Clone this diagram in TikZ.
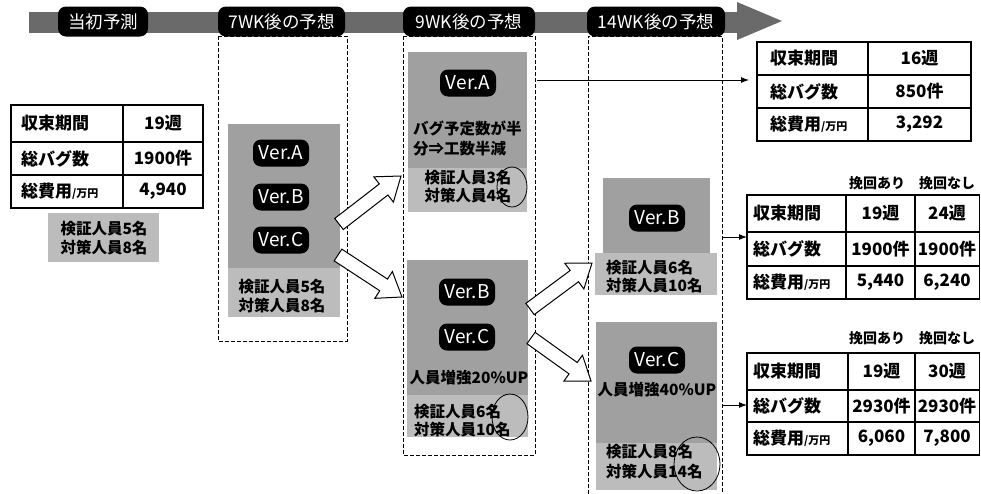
\documentclass[tikz,border=0pt]{standalone}
\usepackage{fontspec}
\setmainfont{Noto Sans CJK JP}
\usetikzlibrary{shapes.geometric,calc,arrows.meta}
\definecolor{barg}{HTML}{6A6A6A}
\definecolor{pang}{HTML}{A0A0A0}
\definecolor{panl}{HTML}{BCBCBC}
\newcommand\blockarr[2]{%
  \coordinate (#1h) at ($(#2)!22pt!(#1)$);
  \draw[blockarrow] ($(#1)!7pt!90:(#2)$) -- ($(#1h)!7pt!90:(#2)$) -- ($(#1h)!16pt!90:(#2)$) -- (#2)
    -- ($(#1h)!16pt!-90:(#2)$) -- ($(#1h)!7pt!-90:(#2)$) -- ($(#1)!7pt!-90:(#2)$) -- cycle;}
\newcommand\smallunit{{\fontsize{11}{11}\selectfont/万円}}
\begin{document}
\begin{tikzpicture}[x=1pt,y=-1pt,
  hdr/.style={fill=black, rounded corners=8pt, text=white, font=\fontsize{17.5}{17.5}\selectfont, minimum height=30pt, inner sep=0pt},
  ver/.style={fill=black, rounded corners=8pt, text=white, font=\fontsize{19}{19}\selectfont, minimum width=56pt, minimum height=27pt, inner sep=0pt},
  ptxt/.style={font=\bfseries\fontsize{15.5}{19}\selectfont, align=center, inner sep=0pt},
  ptxtl/.style={font=\bfseries\fontsize{15.5}{19}\selectfont, align=left, anchor=west, inner sep=0pt},
  tlab/.style={font=\bfseries\fontsize{17}{17}\selectfont, anchor=west, inner sep=0pt},
  tval/.style={font=\bfseries\fontsize{17}{17}\selectfont, inner sep=0pt},
  thead/.style={font=\bfseries\fontsize{14}{14}\selectfont, inner sep=0pt},
  tline/.style={line width=1.4pt},
  dashbox/.style={line width=0.8pt, dash pattern=on 4pt off 2pt},
  blockarrow/.style={draw=black, fill=white, line width=1pt, line join=miter},
  ring/.style={draw=black, line width=0.8pt, ellipse, inner sep=0pt},
  thin/.style={line width=1pt, -{Latex[length=8pt,width=6pt]}}
]
\useasboundingbox (0,0) rectangle (981,493);
\fill[white] (0,0) rectangle (981,493);

% top banner
\fill[barg] (29,12) rectangle (738,33);
\fill[barg] (737,2) -- (782,21) -- (737,40) -- cycle;
\node[hdr, minimum width=90pt] (h1) at (103,21.5) {当初予測};
\node[hdr, minimum width=127pt] (h2) at (281.5,21.5) {7WK後の予想};
\node[hdr, minimum width=132pt] (h3) at (469,21.5) {9WK後の予想};
\node[hdr, minimum width=138pt] (h4) at (656,21.5) {14WK後の予想};

% dashed column frames
\draw[dashbox] (218,36) rectangle (347,341);
\draw[dashbox] (403,36) rectangle (535,455);
\draw[dashbox] (588,494) -- (588,36) -- (722,36) -- (722,494);

% left table
\draw[tline] (11,105) rectangle (203,208);
\draw[tline] (11,142) -- (203,142) (11,175) -- (203,175) (123,105) -- (123,208);
\node[tlab] (la1) at (21,123.5) {収束期間};
\node[tlab] (la2) at (21,158.5) {総バグ数};
\node[tlab] (la3) at (21,191.5) {総費用\smallunit};
\node[tval] (lv1) at (163,123.5) {19週};
\node[tval] (lv2) at (163,158.5) {1900件};
\node[tval] (lv3) at (163,191.5) {4,940};
\fill[panl] (48,213) rectangle (159,262);
\node[ptxt] (lt) at (104,238.5) {検証人員5名\\対策人員8名};

% column 2
\fill[pang] (228,124) rectangle (340,268);
\fill[panl] (228,268) rectangle (340,317);
\node[ver] (v2a) at (281,153) {Ver.A};
\node[ver] (v2b) at (281,197) {Ver.B};
\node[ver] (v2c) at (281,240) {Ver.C};
\node[ptxt] (t2) at (282,296.5) {検証人員5名\\対策人員8名};

% column 3
\fill[pang] (408,52) rectangle (527,168);
\fill[panl] (408,168) rectangle (527,212);
\node[ver] (v3a) at (468,83) {Ver.A};
\node[ptxtl, font=\bfseries\fontsize{15.5}{20}\selectfont] (t3a) at (413,138) {バグ予定数が半\\分⇒工数半減};
\node[ptxt, font=\bfseries\fontsize{15.5}{18}\selectfont] (t3a2) at (468,187) {検証人員3名\\対策人員4名};
\node[ring, minimum width=30pt, minimum height=40pt] (e1) at (512,187) {};

\fill[pang] (407,260) rectangle (528,395);
\fill[panl] (407,395) rectangle (528,437);
\node[ver] (v3b) at (467,292) {Ver.B};
\node[ver] (v3c) at (467,337) {Ver.C};
\node[ptxt] (t3b) at (469,378) {人員増強20\%UP};
\node[ptxtl, font=\bfseries\fontsize{15.5}{18}\selectfont] (t3b2) at (414,421) {検証人員6名\\対策人員10名};
\node[ring, minimum width=36pt, minimum height=46pt] (e2) at (510,417) {};

% column 4
\fill[pang] (603,178) rectangle (710,253);
\fill[panl] (595,253) rectangle (717,295);
\node[ver] (v4b) at (657,218) {Ver.B};
\node[ptxtl, font=\bfseries\fontsize{15.5}{18}\selectfont] (t4b) at (606,276.5) {検証人員6名\\対策人員10名};

\fill[pang] (596,322) rectangle (717,443);
\fill[panl] (596,443) rectangle (717,490);
\node[ver] (v4c) at (657,360) {Ver.C};
\node[ptxt] (t4c) at (657,390) {人員増強40\%UP};
\node[ptxtl, font=\bfseries\fontsize{15.5}{20}\selectfont] (t4c2) at (606,462) {検証人員8名\\対策人員14名};
\node[ring, minimum width=46pt, minimum height=54pt] (e3) at (697,464) {};

% block arrows
\coordinate (a1s) at (339,224); \coordinate (a1e) at (401,176);
\coordinate (a2s) at (338,255); \coordinate (a2e) at (402,297);
\coordinate (a3s) at (530,309); \coordinate (a3e) at (592,263);
\coordinate (a4s) at (531,338); \coordinate (a4e) at (591,381);
\blockarr{a1s}{a1e}
\blockarr{a2s}{a2e}
\blockarr{a3s}{a3e}
\blockarr{a4s}{a4e}

% right table 1
\draw[tline] (757,42) rectangle (971,141);
\draw[tline] (757,75) -- (971,75) (757,108) -- (971,108) (868,42) -- (868,141);
\node[tlab] (ra1) at (770,58.5) {収束期間};
\node[tlab] (ra2) at (770,91.5) {総バグ数};
\node[tlab] (ra3) at (770,124.5) {総費用\smallunit};
\node[tval] (rv1) at (919.5,58.5) {16週};
\node[tval] (rv2) at (919.5,91.5) {850件};
\node[tval] (rv3) at (919.5,124.5) {3,292};

% right table 2
\node[thead] (hb1) at (877,183) {挽回あり};
\node[thead] (hb2) at (947,183) {挽回なし};
\draw[tline] (747,195) rectangle (979.5,299);
\draw[tline] (747,232) -- (979.5,232) (747,266) -- (979.5,266) (846,195) -- (846,299) (915,195) -- (915,299);
\node[tlab] (sa1) at (753,213.5) {収束期間};
\node[tlab] (sa2) at (753,249) {総バグ数};
\node[tlab] (sa3) at (753,282.5) {総費用\smallunit};
\node[tval] (sv1) at (880.5,213.5) {19週};
\node[tval] (sv2) at (880.5,249) {1900件};
\node[tval] (sv3) at (880.5,282.5) {5,440};
\node[tval] (sw1) at (947,213.5) {24週};
\node[tval] (sw2) at (947,249) {1900件};
\node[tval] (sw3) at (947,282.5) {6,240};

% right table 3
\node[thead] (hc1) at (877,338) {挽回あり};
\node[thead] (hc2) at (947,338) {挽回なし};
\draw[tline] (747,353) rectangle (979.5,455);
\draw[tline] (747,390) -- (979.5,390) (747,422) -- (979.5,422) (848,353) -- (848,455) (915,353) -- (915,455);
\node[tlab] (ua1) at (753,371.5) {収束期間};
\node[tlab] (ua2) at (753,406) {総バグ数};
\node[tlab] (ua3) at (753,438.5) {総費用\smallunit};
\node[tval] (uv1) at (881.5,371.5) {19週};
\node[tval] (uv2) at (881.5,406) {2930件};
\node[tval] (uv3) at (881.5,438.5) {6,060};
\node[tval] (uw1) at (947,371.5) {30週};
\node[tval] (uw2) at (947,406) {2930件};
\node[tval] (uw3) at (947,438.5) {7,800};

% thin arrows to result tables
\coordinate (r1s) at (537,80); \coordinate (r1e) at (749,80);
\coordinate (r2s) at (723,237); \coordinate (r2e) at (747,237);
\coordinate (r3s) at (723,405); \coordinate (r3e) at (747,405);
\draw[thin] (r1s) -- (r1e);
\draw[thin] (r2s) -- (r2e);
\draw[thin] (r3s) -- (r3e);
\end{tikzpicture}
\end{document}
